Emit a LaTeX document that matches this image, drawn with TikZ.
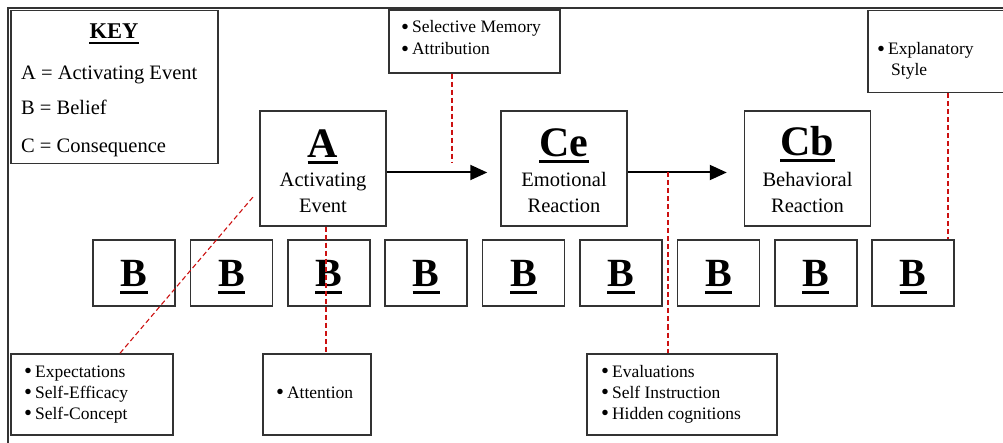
\documentclass[tikz,border=0pt]{standalone}
\usepackage{fontspec}
\setmainfont{Liberation Serif}
\usetikzlibrary{arrows.meta}
\definecolor{boxc}{HTML}{333333}
\definecolor{redc}{HTML}{CC1111}
\newcommand\mybul{\raisebox{-1.8pt}{\scalebox{1.3}{\textbullet}}\,}
\begin{document}
\begin{tikzpicture}[x=1pt,y=-1pt,
  box/.style={draw=boxc,line width=1.5pt,fill=white,inner sep=0pt},
  mainbox/.style={box,minimum width=126pt,minimum height=115pt},
  bbox/.style={box,minimum width=82pt,minimum height=66pt},
  big/.style={font=\fontsize{42}{42}\selectfont\bfseries,inner sep=0pt,anchor=base},
  bigb/.style={font=\fontsize{40}{40}\selectfont\bfseries,inner sep=0pt,anchor=base},
  sub/.style={font=\fontsize{20.5}{24}\selectfont,inner sep=0pt,anchor=base},
  keyt/.style={font=\fontsize{20.5}{24}\selectfont,inner sep=0pt,anchor=base west},
  call/.style={font=\fontsize{17.5}{21}\selectfont,inner sep=0pt,anchor=base west},
  ul/.style={line width=3pt,black},
  reddash/.style={draw=redc,line width=1.1pt,dash pattern=on 5pt off 3pt},
  arr/.style={line width=2pt,-{Triangle[length=17pt,width=15pt]}}]

\path[use as bounding box] (0,0) rectangle (1003,443);
\clip (0,0) rectangle (1003,443);
\draw[line width=2.5pt,boxc] (8,443) -- (8,8) -- (1003,8);

% key
\node[box,minimum width=207pt,minimum height=153pt] (key) at (114.5,87) {};
\node[font=\fontsize{22.5}{24}\selectfont\bfseries,inner sep=0pt,anchor=base] (kt) at (114,39) {KEY};
\draw[line width=1.3pt] ([yshift=-4pt]kt.base west) -- ([yshift=-4pt]kt.base east);
\node[keyt] (k1) at (21,80) {A = Activating Event};
\node[keyt] (k2) at (21,115) {B = Belief};
\node[keyt] (k3) at (21,153) {C = Consequence};

% main boxes
\node[mainbox] (A) at (323,168.5) {};
\node[big] (At) at (323,158) {A};
\draw[ul] ([yshift=-5pt]At.base west) -- ([yshift=-5pt]At.base east);
\node[sub] (A1) at (323,187) {Activating};
\node[sub] (A2) at (323,213) {Event};

\node[mainbox] (Ce) at (564,168.5) {};
\node[big] (Cet) at (564,157) {Ce};
\draw[ul] ([yshift=-5pt]Cet.base west) -- ([yshift=-5pt]Cet.base east);
\node[sub] (Ce1) at (564,187) {Emotional};
\node[sub] (Ce2) at (564,213) {Reaction};

\node[mainbox] (Cb) at (807.5,168.5) {};
\node[big] (Cbt) at (807.5,156) {Cb};
\draw[ul] ([yshift=-5pt]Cbt.base west) -- ([yshift=-5pt]Cbt.base east);
\node[sub] (Cb1) at (807.5,187) {Behavioral};
\node[sub] (Cb2) at (807.5,213) {Reaction};

\draw[arr] ([yshift=-4pt]A.east) -- ([xshift=-13pt,yshift=-4pt]Ce.west);
\draw[arr] ([yshift=-4pt]Ce.east) -- ([xshift=-17pt,yshift=-4pt]Cb.west);

% B boxes
\foreach \i in {1,...,9} {
  \node[bbox] (B\i) at ({134+97.4*(\i-1)},273) {};
  \node[bigb] (Bt\i) at ({134+97.4*(\i-1)},287) {B};
  \draw[ul] ([yshift=-6pt]Bt\i.base west) -- ([yshift=-6pt]Bt\i.base east);
}

% callouts
\node[box,minimum width=171pt,minimum height=63pt] (C1) at (474.5,41.5) {};
\node[call] (C1a) at (401,33) {\mybul Selective Memory};
\node[call] (C1b) at (401,55) {\mybul Attribution};

\node[box,minimum width=150pt,minimum height=82pt,anchor=north west] (C2) at (867,10) {};
\node[call] (C2a) at (877,55) {\mybul Explanatory};
\node[call] (C2b) at (891,76) {Style};

\node[box,minimum width=162pt,minimum height=81pt] (C3) at (92,394.5) {};
\node[call] (C3a) at (24,377) {\mybul Expectations};
\node[call] (C3b) at (24,398) {\mybul Self-Efficacy};
\node[call] (C3c) at (24,419) {\mybul Self-Concept};

\node[box,minimum width=108pt,minimum height=81pt] (C4) at (317,394.5) {};
\node[call] (C4a) at (276,398) {\mybul Attention};

\node[box,minimum width=190pt,minimum height=81pt] (C5) at (682,394.5) {};
\node[call] (C5a) at (601,377) {\mybul Evaluations};
\node[call] (C5b) at (601,398) {\mybul Self Instruction};
\node[call] (C5c) at (601,419) {\mybul Hidden cognitions};

% red dashed connectors
\coordinate (r1) at (452,163);
\draw[reddash] (r1 |- C1.south) -- (r1);
\coordinate (r2) at (253,197);
\draw[reddash] ([xshift=28pt]C3.north) -- (r2);
\coordinate (r3) at (326,0);
\draw[reddash] (r3 |- A.south) -- (r3 |- C4.north);
\coordinate (r4) at (668,172.5);
\draw[reddash] (r4) -- (r4 |- C5.north);
\coordinate (r5) at (948,0);
\draw[reddash] (r5 |- C2.south) -- (r5 |- B9.north);
\end{tikzpicture}
\end{document}
